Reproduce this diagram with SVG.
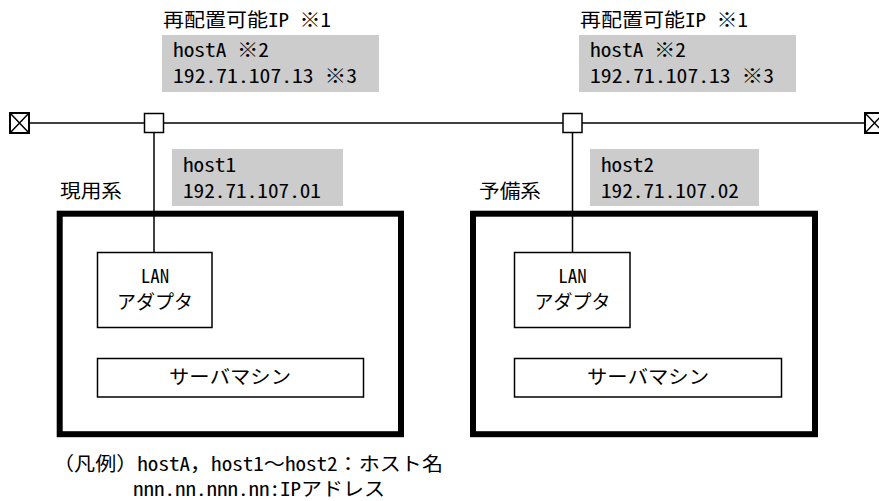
<svg xmlns="http://www.w3.org/2000/svg" width="879" height="501" viewBox="0 0 879 501">
<style>
text{font-family:"Noto Sans Mono CJK JP","Noto Sans CJK JP",sans-serif;font-size:19px;fill:#000}
.c{text-anchor:middle}
.gray{fill:#cccccc;stroke:none}
.thin{fill:#fff;stroke:#000;stroke-width:1.5}
.thick{fill:none;stroke:#000;stroke-width:6}
.ln{stroke:#000;stroke-width:1.5;fill:none}
.term{fill:#fff;stroke:#000;stroke-width:2}
</style>
<rect width="879" height="501" fill="#fff"/>
<g id="connectors">
<line class="ln" x1="29" y1="123" x2="865" y2="123"/>
<line class="ln" x1="154" y1="133" x2="154" y2="252"/>
<line class="ln" x1="572.5" y1="133" x2="572.5" y2="252"/>
</g>
<g id="term-left">
<rect class="term" x="10" y="113" width="19" height="20"/>
<path class="ln" d="M10 113L29 133M29 113L10 133" stroke-width="1.8"/>
</g>
<g id="term-right">
<rect class="term" x="865" y="113" width="19" height="20"/>
<path class="ln" d="M865 113L884 133M884 113L865 133" stroke-width="1.8"/>
</g>
<g id="node-left">
<rect class="thin" x="144.5" y="113.5" width="19" height="19"/>
</g>
<g id="node-right">
<rect class="thin" x="563" y="113.5" width="19" height="19"/>
</g>
<g id="ip-left">
<text x="163" y="27" textLength="168" lengthAdjust="spacingAndGlyphs">再配置可能IP ※1</text>
<rect class="gray" x="162" y="35" width="217" height="57"/>
<text x="173" y="57" textLength="96" lengthAdjust="spacingAndGlyphs">hostA ※2</text>
<text x="173" y="83" textLength="184" lengthAdjust="spacingAndGlyphs">192.71.107.13 ※3</text>
</g>
<g id="ip-right">
<text x="580" y="27" textLength="168" lengthAdjust="spacingAndGlyphs">再配置可能IP ※1</text>
<rect class="gray" x="579" y="35" width="217" height="57"/>
<text x="590" y="57" textLength="96" lengthAdjust="spacingAndGlyphs">hostA ※2</text>
<text x="590" y="83" textLength="184" lengthAdjust="spacingAndGlyphs">192.71.107.13 ※3</text>
</g>
<g id="host1">
<rect class="gray" x="172" y="149" width="171" height="57"/>
<text x="183" y="172" textLength="53" lengthAdjust="spacingAndGlyphs">host1</text>
<text x="183" y="198" textLength="138" lengthAdjust="spacingAndGlyphs">192.71.107.01</text>
</g>
<g id="host2">
<rect class="gray" x="590" y="149" width="169" height="57"/>
<text x="601" y="172" textLength="53" lengthAdjust="spacingAndGlyphs">host2</text>
<text x="601" y="198" textLength="138" lengthAdjust="spacingAndGlyphs">192.71.107.02</text>
</g>
<g id="system-active">
<text x="60" y="198" textLength="62" lengthAdjust="spacingAndGlyphs">現用系</text>
<rect class="thick" x="59.7" y="213.7" width="341.3" height="220.5"/>
</g>
<g id="lan-left">
<rect class="thin" x="97.5" y="252.5" width="114.5" height="75"/>
<text class="c" x="155" y="283">LAN</text>
<text class="c" x="155" y="309">アダプタ</text>
</g>
<g id="server-left">
<rect class="thin" x="97.5" y="358.5" width="266" height="38.5"/>
<text class="c" x="230" y="384" textLength="122" lengthAdjust="spacingAndGlyphs">サーバマシン</text>
</g>
<g id="system-standby">
<text x="479" y="198" textLength="62" lengthAdjust="spacingAndGlyphs">予備系</text>
<rect class="thick" x="473" y="213.7" width="342" height="220.5"/>
</g>
<g id="lan-right">
<rect class="thin" x="514.5" y="252.5" width="115.5" height="75"/>
<text class="c" x="572.5" y="283">LAN</text>
<text class="c" x="572.5" y="309">アダプタ</text>
</g>
<g id="server-right">
<rect class="thin" x="514.5" y="358.5" width="267" height="38.5"/>
<text class="c" x="648" y="384" textLength="122" lengthAdjust="spacingAndGlyphs">サーバマシン</text>
</g>
<g id="legend">
<text x="53" y="471" textLength="390" lengthAdjust="spacingAndGlyphs">（凡例）hostA，host1～host2：ホスト名</text>
<text x="133" y="496" textLength="252" lengthAdjust="spacingAndGlyphs">nnn.nn.nnn.nn:IPアドレス</text>
</g>
</svg>
